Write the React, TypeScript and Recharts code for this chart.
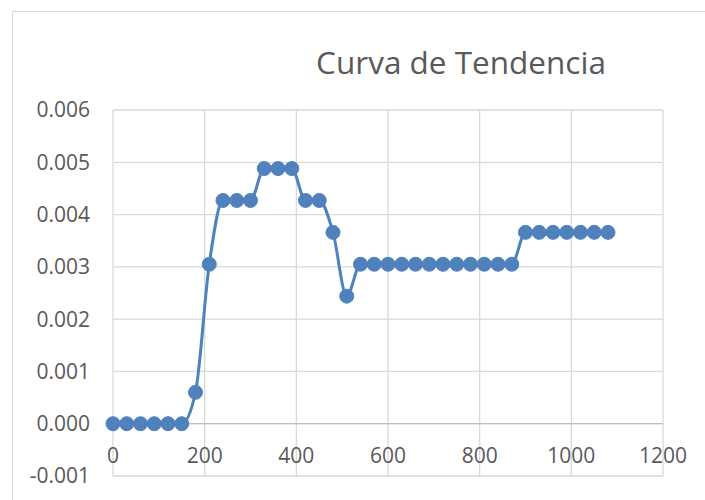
import React from 'react';
import { LineChart, Line, XAxis, YAxis, CartesianGrid, ReferenceLine } from 'recharts';

const xValues = [
  0, 30, 60, 90, 120, 150, 180, 210, 240, 270, 300, 330, 360, 390, 420, 450, 480, 510,
  540, 570, 600, 630, 660, 690, 720, 750, 780, 810, 840, 870,
  900, 930, 960, 990, 1020, 1050, 1080,
];
const yValues = [
  0, 0, 0, 0, 0, 0, 0.0006, 0.00305, 0.00427, 0.00427, 0.00427, 0.00488, 0.00488, 0.00488,
  0.00427, 0.00427, 0.00366, 0.00244,
  0.00305, 0.00305, 0.00305, 0.00305, 0.00305, 0.00305, 0.00305, 0.00305, 0.00305, 0.00305, 0.00305, 0.00305,
  0.00366, 0.00366, 0.00366, 0.00366, 0.00366, 0.00366, 0.00366,
];
const xTicks = [0, 200, 400, 600, 800, 1000, 1200];
const yTicks = [-0.001, 0, 0.001, 0.002, 0.003, 0.004, 0.005, 0.006];
const title = 'Curva de Tendencia';

const data = xValues.map((x, i) => ({ x, y: yValues[i] }));

const W = 705;
const H = 500;
const X_AXIS_H = 1;
const MARGIN = { top: 110, right: 42, bottom: 23, left: 0 };
const Y_AXIS_W = 113;
const Y_MIN = -0.001;
const Y_MAX = 0.006;
const PLOT_H = H - MARGIN.top - MARGIN.bottom - X_AXIS_H;
const ZERO_Y = MARGIN.top + (PLOT_H * (Y_MAX - 0)) / (Y_MAX - Y_MIN);

const FONT = "'Open Sans', sans-serif";
const TEXT = '#595959';
const BLUE = '#4F81BD';
const GRID = '#d9d9d9';

const renderXTick = (props: any) => {
  const { x, payload } = props;
  return (
    <text
      key={`xt-${payload.value}`}
      x={x}
      y={ZERO_Y + 31}
      textAnchor="middle"
      dominantBaseline="central"
      fill={TEXT}
      fontSize={21}
      fontFamily={FONT}
    >
      {payload.value}
    </text>
  );
};

export default function App() {
  return (
    <div style={{ position: 'absolute', left: 0, top: 0, width: W, height: H, background: '#fff', overflow: 'hidden' }}>
      <div
        style={{
          position: 'absolute',
          left: 12,
          top: 11,
          width: W,
          height: H,
          borderTop: `1px solid ${GRID}`,
          borderLeft: `1px solid ${GRID}`,
        }}
      />
      <LineChart width={W} height={H} data={data} margin={MARGIN}>
        <CartesianGrid stroke={GRID} strokeWidth={1.3} horizontal vertical />
        <XAxis
          dataKey="x"
          type="number"
          domain={[0, 1200]}
          ticks={xTicks}
          height={X_AXIS_H}
          axisLine={false}
          tickLine={false}
          tick={renderXTick}
          interval={0}
        />
        <YAxis
          type="number"
          domain={[Y_MIN, Y_MAX]}
          ticks={yTicks}
          width={Y_AXIS_W}
          axisLine={false}
          tickLine={false}
          tickMargin={17}
          interval={0}
          tickFormatter={(v: number) => v.toFixed(3)}
          tick={{ fill: TEXT, fontSize: 21, fontFamily: FONT }}
        />
        <ReferenceLine y={0} stroke="#bfbfbf" strokeWidth={1.3} />
        <Line
          type="monotone"
          dataKey="y"
          stroke={BLUE}
          strokeWidth={3}
          dot={{ r: 7, fill: BLUE, stroke: BLUE, strokeWidth: 1 }}
          activeDot={false}
          isAnimationActive={false}
        />
      </LineChart>
      <svg width={W} height={H} style={{ position: 'absolute', left: 0, top: 0, pointerEvents: 'none' }}>
        <text x={461} y={74} textAnchor="middle" fill={TEXT} fontSize={31.5} fontFamily={FONT}>
          {title}
        </text>
      </svg>
    </div>
  );
}
